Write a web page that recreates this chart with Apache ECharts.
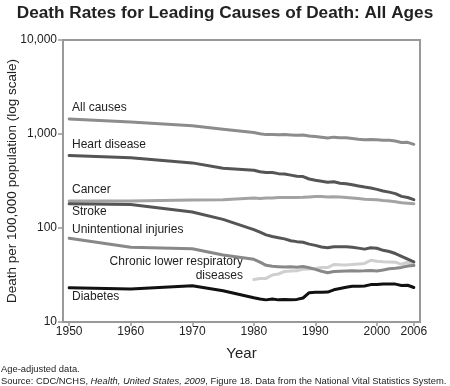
<!DOCTYPE html>
<html>
<head>
<meta charset="utf-8">
<script src="https://cdn.jsdelivr.net/npm/echarts@6/dist/echarts.min.js"></script>
<style>
html,body{margin:0;padding:0;background:#fff;}
#chart{width:450px;height:386px;}
</style>
</head>
<body>
<div id="chart"></div>
<script>
var years = [1950,1960,1970,1975,1980,1981,1982,1983,1984,1985,1986,1987,1988,1989,1990,1991,1992,1993,1994,1995,1996,1997,1998,1999,2000,2001,2002,2003,2004,2005,2006];
var allCauses = [1446.0,1339.2,1222.6,1122.4,1039.1,1007.1,985.0,990.0,982.5,988.1,978.6,970.0,975.7,950.5,938.7,922.3,905.6,926.1,913.5,909.8,894.1,878.1,870.6,875.6,869.0,858.8,855.9,843.5,813.7,815.0,776.5];
var heartDisease = [588.8,559.0,492.7,431.2,412.1,397.0,389.0,388.9,378.8,375.0,365.1,355.9,352.5,332.0,321.8,313.8,306.1,309.9,299.7,296.3,288.3,280.4,272.4,266.5,257.6,247.8,240.8,232.3,217.0,211.1,200.2];
var cancer = [193.9,193.9,198.6,200.1,207.9,206.4,208.3,209.1,210.8,211.3,211.5,211.7,212.5,214.2,216.0,215.8,214.3,214.6,213.1,211.7,208.7,205.7,202.4,200.8,199.6,196.0,193.5,190.1,185.8,183.8,180.7];
var stroke = [180.7,177.9,147.7,123.5,96.2,90.3,84.5,81.2,78.8,76.6,73.1,71.6,70.6,67.4,65.3,62.9,61.5,63.1,63.1,63.1,62.5,61.1,59.6,61.6,60.9,57.9,56.2,53.5,50.0,46.6,43.6];
var injuries = [78.0,62.3,60.1,51.5,46.4,43.4,40.1,39.1,38.8,38.5,38.6,38.2,38.9,37.7,36.3,34.7,33.4,34.4,34.6,34.9,35.0,34.9,35.0,35.3,34.9,35.7,36.9,37.3,38.1,39.5,39.8];
var clrd = [null,null,null,null,28.3,29.0,29.1,31.6,32.4,34.5,34.8,35.0,36.5,36.6,37.2,38.0,37.9,40.9,40.6,40.5,41.0,41.5,42.0,45.4,44.2,43.7,43.5,43.3,41.1,43.2,40.5];
var diabetes = [23.1,22.5,24.3,21.5,18.1,17.6,17.2,17.6,17.2,17.4,17.2,17.4,18.0,20.5,20.7,20.7,20.8,22.0,22.7,23.4,24.0,24.0,24.2,25.0,25.0,25.3,25.4,25.3,24.5,24.6,23.3];
var xTicks = [1950,1960,1970,1980,1990,2000,2006];
var yTicks = [10,100,1000,10000];

var FONT = '"Liberation Sans", Arial, sans-serif';
function pairs(arr){ return years.map(function(y,i){ return [y, arr[i]]; }); }
function mk(name, arr, color, z){
  return {name:name, type:'line', data:pairs(arr), showSymbol:false, symbol:'none',
    connectNulls:false, z:z||2,
    lineStyle:{color:color, width:3, join:'round', cap:'round'}};
}
var chart = echarts.init(document.getElementById('chart'), null, {renderer:'canvas'});
var txt = {fontFamily:FONT, fontSize:12, fill:'#222'};
function label(x,y,t,align){
  return {type:'text', x:x, y:y, style:Object.assign({}, txt, {text:t, textAlign:align||'left', textVerticalAlign:'middle'})};
}
chart.setOption({
  animation:false,
  title:{text:'Death Rates for Leading Causes of Death: All Ages', left:'center', top:0,
    textStyle:{fontFamily:FONT, fontSize:17.2, fontWeight:'bold', color:'#222'}},
  grid:{left:63, right:30, top:40, bottom:64, show:true, borderColor:'#999', borderWidth:2,
    containLabel:false, outerBoundsMode:'none'},
  xAxis:{type:'value', min:1949, max:2007,
    name:'Year', nameLocation:'middle', nameGap:24, nameMoveOverlap:false,
    nameTextStyle:{fontFamily:FONT, fontSize:15, color:'#222'},
    axisLine:{show:true, lineStyle:{color:'#999', width:2}},
    axisTick:{show:true, length:4, customValues:xTicks, lineStyle:{color:'#999', width:1.5}},
    axisLabel:{customValues:xTicks, fontFamily:FONT, fontSize:12, color:'#222', margin:4,
      formatter:function(v){ return String(Math.round(v)); }},
    splitLine:{show:false}},
  yAxis:{type:'log', logBase:10, min:10, max:10000,
    name:'Death per 100,000 population (log scale)', nameLocation:'middle', nameGap:51, nameRotate:90,
    nameMoveOverlap:false,
    nameTextStyle:{fontFamily:FONT, fontSize:13.5, color:'#222', verticalAlign:'middle'},
    axisLine:{show:true, lineStyle:{color:'#999', width:2}},
    axisTick:{show:true, length:5, customValues:yTicks, lineStyle:{color:'#999', width:1.5}},
    axisLabel:{customValues:yTicks, fontFamily:FONT, fontSize:12, color:'#222', margin:6,
      formatter:function(v){ return Math.round(v).toLocaleString('en-US'); }},
    splitLine:{show:false}},
  series:[
    mk('All causes', allCauses, '#8c8c8c'),
    mk('Heart disease', heartDisease, '#555555'),
    mk('Cancer', cancer, '#a3a3a3'),
    mk('Stroke', stroke, '#555555'),
    mk('Unintentional injuries', injuries, '#888888'),
    mk('Chronic lower respiratory diseases', clrd, '#cfcfcf', 1),
    mk('Diabetes', diabetes, '#111111', 3)
  ],
  graphic:[
    label(72,108,'All causes'),
    label(72,145,'Heart disease'),
    label(72,190,'Cancer'),
    label(72,212,'Stroke'),
    label(72,230,'Unintentional injuries'),
    label(243,262,'Chronic lower respiratory','right'),
    label(243,276,'diseases','right'),
    label(72,297,'Diabetes'),
    {type:'text', x:1, y:369, style:{fontFamily:FONT, fontSize:9.4, fill:'#222', text:'Age-adjusted data.', textVerticalAlign:'middle'}},
    {type:'text', x:1, y:381, style:{fontFamily:FONT, fontSize:9.4, fill:'#222', textVerticalAlign:'middle',
      text:'Source: CDC/NCHS, {i|Health, United States, 2009}, Figure 18. Data from the National Vital Statistics System.',
      rich:{i:{fontFamily:FONT, fontSize:9.4, fontStyle:'italic', fill:'#222', color:'#222'}}}}
  ]
});
</script>
</body>
</html>
